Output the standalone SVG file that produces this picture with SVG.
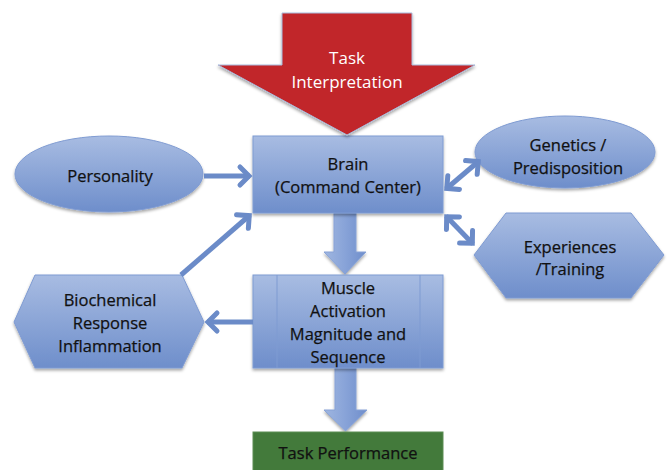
<svg xmlns="http://www.w3.org/2000/svg" width="667" height="470" viewBox="0 0 667 470">
  <defs>
    <linearGradient id="blueFill" x1="0" y1="0" x2="0" y2="1">
      <stop offset="0" stop-color="#a8bce2"/>
      <stop offset="1" stop-color="#6e8ecb"/>
    </linearGradient>
    <linearGradient id="arrowFill" x1="0" y1="0" x2="1" y2="0">
      <stop offset="0" stop-color="#9fb6e0"/>
      <stop offset="0.5" stop-color="#88a3d8"/>
      <stop offset="1" stop-color="#6f8ecb"/>
    </linearGradient>
    <filter id="shadow" x="-10%" y="-10%" width="120%" height="130%">
      <feDropShadow dx="0" dy="2" stdDeviation="1.5" flood-color="#000" flood-opacity="0.35"/>
    </filter>
    <marker id="chev" markerUnits="userSpaceOnUse" markerWidth="30" markerHeight="30" viewBox="-15 -15 30 30" refX="0" refY="0" orient="auto-start-reverse">
      <path d="M-10,-9 L-1,0 L-10,9" fill="none" stroke="#6b8bc8" stroke-width="5" stroke-linecap="round" stroke-linejoin="miter"/>
    </marker>
    <style>
      .node { fill: url(#blueFill); stroke: #7f9bd2; stroke-width: 1; filter: url(#shadow); }
      .lbl { font-family: "Open Sans", "Liberation Sans", sans-serif; font-size: 16.5px; fill: #111111; stroke: #111111; stroke-width: 0.25; text-anchor: middle; }
      .conn { fill: none; stroke: #6b8bc8; stroke-width: 5; }
      .block { fill: url(#arrowFill); stroke: #87a2d6; stroke-width: 1; filter: url(#shadow); }
    </style>
  </defs>

  <rect width="667" height="470" fill="#ffffff"/>

  <g id="connectors">
    <polygon class="block" points="334,213 356,213 356,252 366,252 345,274 324,252 334,252"/>
    <polygon class="block" points="335,368 356,368 356,410 367,410 345.5,431 324,410 335,410"/>
  </g>

  <g id="brain">
    <rect class="node" x="253" y="136" width="190" height="77"/>
    <text class="lbl" x="348" y="170">Brain</text>
    <text class="lbl" x="348" y="193">(Command Center)</text>
  </g>

  <g id="task-interpretation">
    <polygon points="282,13 412,13 412,65 475,65 347,135 218,65 282,65" fill="#c1262c" stroke="#a9bcdc" stroke-width="1" filter="url(#shadow)"/>
    <text x="347" y="64" font-family="'Open Sans', 'Liberation Sans', sans-serif" font-size="17" fill="#ffffff" text-anchor="middle">Task</text>
    <text x="347" y="88" font-family="'Open Sans', 'Liberation Sans', sans-serif" font-size="17" fill="#ffffff" text-anchor="middle">Interpretation</text>
  </g>

  <g id="personality">
    <ellipse class="node" cx="109" cy="174" rx="94" ry="38"/>
    <text class="lbl" x="110" y="182">Personality</text>
  </g>

  <g id="genetics">
    <ellipse class="node" cx="565" cy="152" rx="90" ry="36"/>
    <text class="lbl" x="568" y="151">Genetics /</text>
    <text class="lbl" x="568" y="174">Predisposition</text>
  </g>

  <g id="experiences">
    <polygon class="node" points="474,255 506,213 631,213 664,255 631,298 506,298"/>
    <text class="lbl" x="570" y="253">Experiences</text>
    <text class="lbl" x="570" y="275">/Training</text>
  </g>

  <g id="biochemical">
    <polygon class="node" points="14,322 35,275 182,275 204,322 182,368 35,368"/>
    <text class="lbl" x="110" y="306">Biochemical</text>
    <text class="lbl" x="110" y="329">Response</text>
    <text class="lbl" x="110" y="352">Inflammation</text>
  </g>

  <g id="muscle">
    <rect class="node" x="253" y="275" width="190" height="93"/>
    <line x1="277" y1="275" x2="277" y2="368" stroke="#7f9bd2" stroke-width="1"/>
    <line x1="420" y1="275" x2="420" y2="368" stroke="#7f9bd2" stroke-width="1"/>
    <text class="lbl" x="348" y="294">Muscle</text>
    <text class="lbl" x="348" y="317">Activation</text>
    <text class="lbl" x="348" y="340">Magnitude and</text>
    <text class="lbl" x="348" y="363">Sequence</text>
  </g>

  <g id="task-performance">
    <rect x="253" y="432" width="190" height="45" fill="#437a3b" stroke="#5d8d55" stroke-width="1"/>
    <text class="lbl" x="348" y="459">Task Performance</text>
  </g>

  <g id="connector-lines">
    <line class="conn" x1="204" y1="176" x2="250" y2="176" marker-end="url(#chev)"/>
    <line class="conn" x1="181" y1="275" x2="250" y2="215" marker-end="url(#chev)"/>
    <line class="conn" x1="253" y1="322" x2="207" y2="322" marker-end="url(#chev)"/>
    <line class="conn" x1="446" y1="189" x2="479" y2="161" marker-start="url(#chev)" marker-end="url(#chev)"/>
    <line class="conn" x1="446" y1="216" x2="473" y2="244" marker-start="url(#chev)" marker-end="url(#chev)"/>
  </g>
</svg>
